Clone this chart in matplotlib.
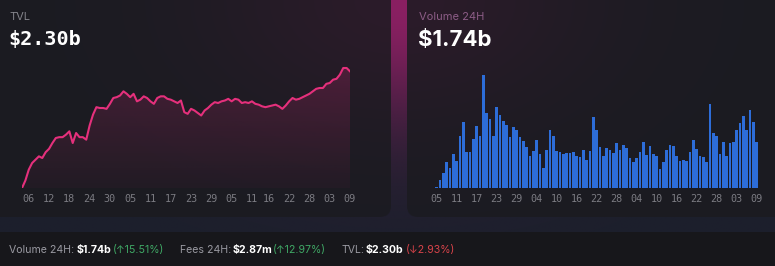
import numpy as np
import matplotlib
matplotlib.use("Agg")
import matplotlib.pyplot as plt
from matplotlib.patches import FancyBboxPatch, Rectangle, PathPatch
from matplotlib.colors import to_rgb

############################## Data ##############################
# TVL in $b, one value per day
tvl = [0.90, 0.99, 1.12, 1.20, 1.24, 1.28, 1.26, 1.33, 1.37, 1.44,
       1.50, 1.51, 1.51, 1.54, 1.58, 1.44, 1.56, 1.51, 1.51, 1.48,
       1.65, 1.78, 1.87, 1.86, 1.86, 1.85, 1.91, 1.98, 1.99, 2.01,
       2.06, 2.03, 1.99, 2.03, 1.94, 1.96, 2.00, 1.98, 1.94, 1.91,
       1.98, 2.00, 2.00, 1.97, 1.96, 1.94, 1.92, 1.95, 1.81, 1.79,
       1.85, 1.83, 1.80, 1.77, 1.83, 1.86, 1.90, 1.93, 1.92, 1.94,
       1.95, 1.97, 1.94, 1.97, 1.96, 1.92, 1.93, 1.92, 1.94, 1.91,
       1.90, 1.88, 1.87, 1.88, 1.89, 1.90, 1.88, 1.85, 1.89, 1.94,
       1.98, 1.96, 1.97, 1.99, 2.01, 2.03, 2.06, 2.09, 2.10, 2.10,
       2.15, 2.16, 2.20, 2.21, 2.26, 2.34, 2.34, 2.30]
tvl_tick_pos = [2, 8, 14, 20, 26, 32, 38, 44, 50, 56, 62, 68, 73, 79, 85, 91, 97]
tvl_tick_lbl = ['06', '12', '18', '24', '30', '05', '11', '17', '23', '29',
                '05', '11', '16', '22', '28', '03', '09']

# Volume 24H in $b, one bar per day
volume = [0.04, 0.32, 0.57, 0.99, 0.76, 1.30, 1.02, 1.97, 2.51, 1.36,
          1.36, 1.88, 2.35, 1.99, 4.31, 2.88, 2.63, 1.99, 3.11, 2.78,
          2.54, 2.39, 1.93, 2.34, 2.22, 1.93, 1.78, 1.55, 1.23, 1.42,
          1.84, 1.31, 0.76, 1.44, 2.22, 1.99, 1.42, 1.38, 1.28, 1.33,
          1.33, 1.36, 1.24, 1.18, 1.46, 1.08, 1.42, 2.71, 2.22, 1.55,
          1.23, 1.51, 1.44, 1.33, 1.71, 1.46, 1.65, 1.51, 1.13, 1.00,
          1.13, 1.37, 1.74, 1.26, 1.59, 1.31, 1.24, 0.72, 1.00, 1.44,
          1.63, 1.59, 1.21, 1.04, 1.05, 1.02, 1.38, 1.84, 1.47, 1.22,
          1.18, 1.00, 3.20, 2.10, 1.99, 1.28, 1.74, 1.21, 1.71, 1.75,
          2.20, 2.50, 2.73, 2.22, 2.96, 2.53, 1.74]
vol_tick_pos = list(range(0, 97, 6))
vol_tick_lbl = ['05', '11', '17', '23', '29', '04', '10', '16', '22', '28',
                '04', '10', '16', '22', '28', '03', '09']

# footer pieces: (text, colour, bold, x position in px)
footer = [('Volume 24H:', '#9a9aa2', False, 9),
          ('$1.74b', '#ffffff', True, 77),
          ('(\u219115.51%)', '#3fa865', False, 113),
          ('Fees 24H:', '#9a9aa2', False, 180),
          ('$2.87m', '#ffffff', True, 233),
          ('(\u219112.97%)', '#3fa865', False, 273),
          ('TVL:', '#9a9aa2', False, 342),
          ('$2.30b', '#ffffff', True, 366),
          ('(\u21932.93%)', '#d9434a', False, 406)]

W, H = 775, 266
UI_FONT = ['Inter', 'DejaVu Sans']
MONO_FONT = ['DejaVu Sans Mono']
TICK_COL = '#7b7b82'

def px_rect(x, y, w, h):
    return [x / W, 1 - (y + h) / H, w / W, h / H]

fig = plt.figure(figsize=(W / 100, H / 100), dpi=100)

######################## Background glow #########################
yy, xx = np.mgrid[0:H, 0:W]
base = np.array(to_rgb('#1c1f2c'))
glow_col = np.array(to_rgb('#8a1f62'))
g = np.exp(-((xx - 399) / 190.0) ** 2 - (yy / 120.0) ** 2)
img = base[None, None, :] * (1 - g[..., None]) + glow_col[None, None, :] * g[..., None]

bg = fig.add_axes([0, 0, 1, 1])
bg.imshow(img, extent=[0, W, H, 0], aspect='auto', zorder=0)
bg.set_xlim(0, W)
bg.set_ylim(H, 0)
bg.axis('off')

# cards
for (x0, x1) in [(-12, 391), (407, 790)]:
    card = FancyBboxPatch((x0, -12), x1 - x0, 229,
                          boxstyle='round,pad=0,rounding_size=11',
                          facecolor='#1b1b20', edgecolor='none', alpha=0.86, zorder=1)
    bg.add_patch(card)

# footer strip
bg.add_patch(Rectangle((0, 232), W, 40, facecolor='#17171b', edgecolor='none', zorder=1))

# headings
bg.text(9, 17.5, 'TVL', color='#85858c', fontsize=8, family=UI_FONT, va='center', zorder=3)
bg.text(8, 40, '$2.30b', color='white', fontsize=14.5, fontweight='bold',
        family=MONO_FONT, va='center', zorder=3)
bg.text(419, 17.5, 'Volume 24H', color='#8d5d87', fontsize=8, family=UI_FONT, va='center', zorder=3)
bg.text(418, 40, '$1.74b', color='white', fontsize=16, fontweight='bold',
        family=UI_FONT, va='center', zorder=3)

for txt, col, bold, xpos in footer:
    bg.text(xpos, 250, txt, color=col, fontsize=7.6, family=UI_FONT,
            fontweight='bold' if bold else 'normal', va='center', zorder=3)

############################ TVL line ############################
days = np.arange(len(tvl))
ax1 = fig.add_axes(px_rect(22, 60, 328, 128))
ax1.set_facecolor('none')
y_lo, y_hi = 0.9, 2.436
ax1.set_xlim(0, len(tvl) - 1)
ax1.set_ylim(y_lo, y_hi)

poly = ax1.fill_between(days, tvl, y_lo, facecolor='none', edgecolor='none')
clip = PathPatch(poly.get_paths()[0], transform=ax1.transData, facecolor='none', edgecolor='none')
ax1.add_patch(clip)
grad = np.zeros((100, 1, 4))
grad[..., :3] = to_rgb('#d42a78')
grad[:, 0, 3] = np.linspace(0.24, 0.04, 100)
im = ax1.imshow(grad, extent=[0, len(tvl) - 1, y_lo, y_hi], aspect='auto', origin='upper', zorder=1)
im.set_clip_path(clip)

ax1.plot(days, tvl, color='#e5307c', lw=1.5, zorder=2, solid_joinstyle='round')
ax1.set_xticks(tvl_tick_pos)
ax1.set_xticklabels(tvl_tick_lbl, family=MONO_FONT, fontsize=7.3, color=TICK_COL)
ax1.set_yticks([])
ax1.tick_params(axis='x', length=0, pad=4)
for s in ax1.spines.values():
    s.set_visible(False)

########################### Volume bars ##########################
ax2 = fig.add_axes(px_rect(435, 60, 323.3, 128))
ax2.set_facecolor('none')
ax2.bar(np.arange(len(volume)), volume, width=0.78, color='#2d6dd8', edgecolor='none')
ax2.set_xlim(-0.5, len(volume) - 0.5)
ax2.set_ylim(0, 128 / 26.2)
ax2.set_xticks(vol_tick_pos)
ax2.set_xticklabels(vol_tick_lbl, family=MONO_FONT, fontsize=7.3, color=TICK_COL)
ax2.set_yticks([])
ax2.tick_params(axis='x', length=0, pad=4)
for s in ax2.spines.values():
    s.set_visible(False)

fig.savefig('out.png', dpi=100)
